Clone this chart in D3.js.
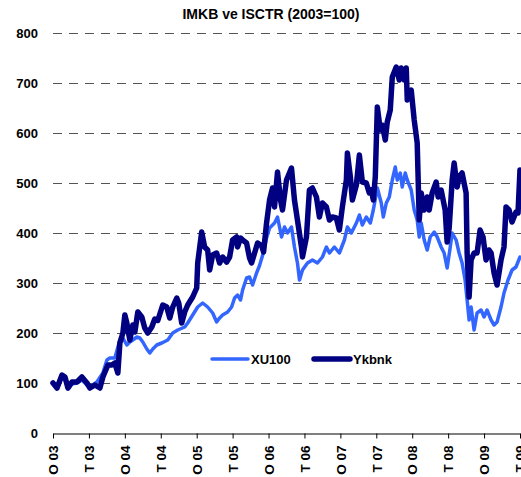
<!DOCTYPE html>
<html>
<head>
<meta charset="utf-8">
<script src="https://cdn.jsdelivr.net/npm/d3@7"></script>
<style>
  html, body { margin: 0; padding: 0; background: #fff; }
  svg { display: block; font-family: Arial, "Liberation Sans", sans-serif; }
</style>
</head>
<body>
<svg id="chart" width="521" height="477"></svg>
<script>
// ---- data (time in months since Jan 2003) ----
const title = "IMKB ve ISCTR (2003=100)";
const seriesNames = ["XU100", "Ykbnk"];
const xTickMonths = [0, 6, 12, 18, 24, 30, 36, 42, 48, 54, 60, 66, 72, 78];
const xTickLabels = ["O 03","T 03","O 04","T 04","O 05","T 05","O 06","T 06","O 07","T 07","O 08","T 08","O 09","T 09"];
const yTicks = [0, 100, 200, 300, 400, 500, 600, 700, 800];

const xuMonths = [0,0.67,1.5,2,2.5,3.17,4,4.83,5.67,6.17,7.33,8.33,9,9.5,10.33,11.17,11.67,12.33,12.83,13.33,14,14.5,15,15.67,16.17,16.67,17.33,18.17,19.17,20,20.83,22,22.5,23.33,24.17,25,25.83,26.67,27.33,27.83,28.33,29.17,29.83,30.33,30.83,31.33,31.67,32.33,32.83,33.33,34,34.5,35.17,35.67,36.17,37,37.5,38.17,38.67,39.17,39.83,40.33,40.83,41.17,41.67,42.5,43.33,44.17,45,45.67,46.17,47,47.83,48.67,49.17,49.83,50.67,51.17,51.67,52.33,53,53.5,54.17,54.83,55.17,55.67,56.17,56.67,57.17,57.5,58,58.33,58.83,59.17,59.83,60.33,60.83,61.17,61.5,62,62.5,63,63.67,64.17,64.83,65.33,65.83,66.33,66.67,67.33,67.83,68.33,68.83,69.17,69.5,69.83,70.33,70.83,71.5,72,72.5,73.17,73.67,74.17,74.83,75.33,76,76.67,77.33,78];
const xuValues = [100,92,110,108,88,98,100,106,96,92,102,120,146,150,150,186,190,176,182,186,192,190,182,168,160,168,176,180,186,200,206,212,220,236,252,260,252,240,222,230,236,242,252,270,276,266,286,310,312,296,320,335,362,390,410,420,432,392,412,400,412,372,340,306,326,340,346,340,352,372,360,372,360,386,412,400,420,436,416,432,420,446,490,460,432,460,472,506,532,506,520,492,520,506,486,446,426,392,420,386,366,392,402,392,372,360,330,370,400,386,360,340,306,266,226,252,206,240,246,232,246,226,216,222,252,280,306,326,332,352];

const ykMonths = [0,0.67,1.5,2,2.5,3.17,4,4.83,5.67,6.17,7,7.83,8.33,9.17,9.83,10.33,10.83,11.17,11.67,12,12.33,12.83,13.33,13.67,14.17,14.83,15.33,15.83,16.5,17,17.5,18.33,19,19.5,20,20.67,21,21.5,22,22.5,23.33,24,24.17,24.83,25.33,25.83,26.17,26.67,27.33,27.83,28.33,29,29.5,30,30.67,30.83,31.33,31.67,32.33,32.83,33.17,33.67,34.17,34.83,35.17,35.67,36.17,36.67,37,37.5,38,38.33,39,39.83,40.33,40.83,41.5,41.67,42.33,42.83,43.33,44,44.5,45,45.67,46.17,46.67,47.33,47.83,48.33,49,49.17,49.67,50,50.67,51.17,51.67,52.33,52.83,53.17,53.5,53.83,54.17,54.67,55,55.5,55.83,56.33,56.67,57.33,57.83,58.17,58.67,59,59.17,59.83,60.33,60.83,61.17,61.5,62,62.5,62.83,63.33,64,64.33,64.83,65.5,65.83,66.17,66.67,67,67.5,67.83,68.33,69,69.17,69.5,69.83,70.33,70.83,71.33,71.83,72.33,72.83,73.17,73.67,74.17,74.83,75.33,75.67,76.17,76.67,77.33,77.67,78];
const ykValues = [100,90,116,112,90,102,102,112,100,90,96,90,112,136,136,140,120,180,200,236,220,186,216,202,242,232,210,200,212,228,225,256,252,230,252,270,260,220,242,256,272,290,340,402,372,366,326,356,360,340,352,342,352,386,392,372,390,386,380,350,340,360,380,375,362,420,466,490,452,522,466,446,506,530,466,426,372,352,392,486,490,472,432,460,452,426,432,430,406,452,506,560,512,466,496,556,502,500,480,486,466,512,652,606,616,586,622,646,712,732,706,730,706,730,666,686,626,580,426,480,446,472,446,480,502,472,486,446,382,410,506,540,492,512,520,480,360,272,346,360,360,406,392,346,366,360,320,296,346,372,452,446,422,442,440,526];

const colors = { XU100: "#3366ff", Ykbnk: "#000080" };
const widths = { XU100: 3.5, Ykbnk: 5.5 };

// ---- layout ----
const svg = d3.select("#chart");
const margin = { left: 53, right: 0, top: 33, bottom: 44 };
const W = 521, H = 477;
const x = d3.scaleLinear().domain([0, 78]).range([margin.left, W - 1]);
const y = d3.scaleLinear().domain([0, 800]).range([H - margin.bottom, margin.top]);

// title
svg.append("text")
  .attr("x", 271).attr("y", 19)
  .attr("text-anchor", "middle")
  .attr("font-size", 14).attr("font-weight", "bold")
  .text(title);

// gridlines
svg.append("g")
  .selectAll("line")
  .data(yTicks.filter(d => d > 0))
  .join("line")
  .attr("x1", x(0)).attr("x2", W)
  .attr("y1", d => Math.round(y(d)) + 0.5).attr("y2", d => Math.round(y(d)) + 0.5)
  .attr("stroke", "#555").attr("stroke-width", 1)
  .attr("stroke-dasharray", "9,7");

// y labels
const yAxis = d3.axisLeft(y).tickValues(yTicks).tickSize(0).tickPadding(15);
const gy = svg.append("g").attr("transform", `translate(${margin.left},0)`).call(yAxis);
gy.select(".domain").remove();
gy.selectAll("text").attr("font-size", 13).attr("font-weight", "bold")
  .attr("font-family", "Arial, 'Liberation Sans', sans-serif").attr("fill", "#000");

// x axis
const xAxis = d3.axisBottom(x).tickValues(xTickMonths)
  .tickFormat((d, i) => xTickLabels[i]).tickSize(5).tickSizeOuter(0);
const gx = svg.append("g").attr("transform", `translate(0,${Math.round(y(0)) + 0.5})`).call(xAxis);
gx.select(".domain").attr("stroke", "#000");
gx.selectAll(".tick line").attr("stroke", "#000");
gx.selectAll("text")
  .attr("font-size", 13.5).attr("font-weight", "bold")
  .attr("font-family", "Arial, 'Liberation Sans', sans-serif").attr("fill", "#000")
  .attr("transform", "rotate(-90)")
  .attr("text-anchor", "end")
  .attr("x", -12).attr("y", 0).attr("dy", "0.35em");

// lines
const line = d3.line().x(d => x(d[0])).y(d => y(d[1]));
const seriesData = [
  { name: "XU100", pts: d3.zip(xuMonths, xuValues) },
  { name: "Ykbnk", pts: d3.zip(ykMonths, ykValues) }
];
svg.append("g").selectAll("path")
  .data(seriesData)
  .join("path")
  .attr("d", d => line(d.pts))
  .attr("fill", "none")
  .attr("stroke", d => colors[d.name])
  .attr("stroke-width", d => widths[d.name])
  .attr("stroke-linejoin", "round")
  .attr("stroke-linecap", "round");

// legend
const legend = svg.append("g");
const legendItems = [
  { name: "XU100", lx: 212 },
  { name: "Ykbnk", lx: 314 }
];
legendItems.forEach(it => {
  legend.append("line")
    .attr("x1", it.lx).attr("x2", it.lx + 36)
    .attr("y1", 359).attr("y2", 359)
    .attr("stroke", colors[it.name]).attr("stroke-width", widths[it.name])
    .attr("stroke-linecap", "round");
  legend.append("text")
    .attr("x", it.lx + 39).attr("y", 364)
    .attr("font-size", 13).attr("font-weight", "bold")
    .text(it.name);
});
</script>
</body>
</html>
